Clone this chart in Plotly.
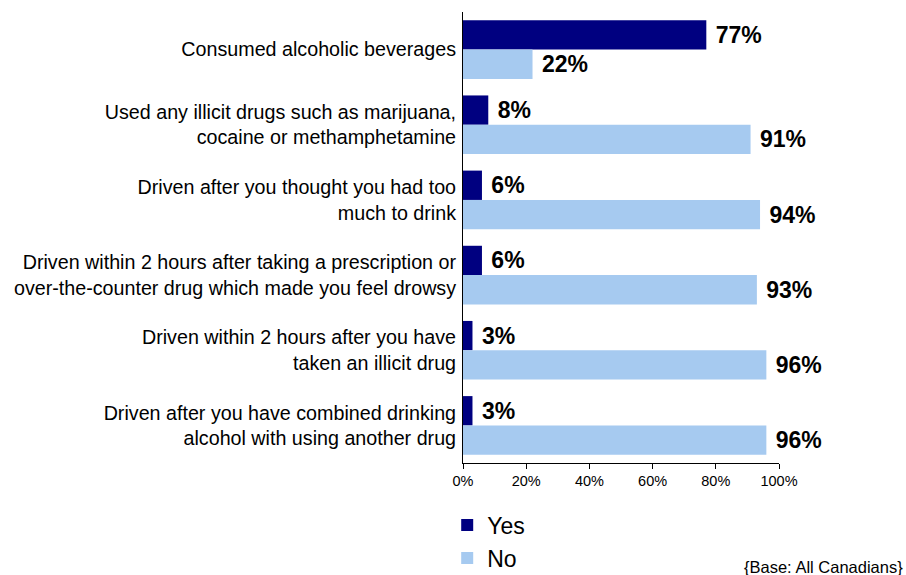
import plotly.graph_objects as go

categories = [
    "Consumed alcoholic beverages",
    "Used any illicit drugs such as marijuana,<br>cocaine or methamphetamine",
    "Driven after you thought you had too<br>much to drink",
    "Driven within 2 hours after taking a prescription or<br>over-the-counter drug which made you feel drowsy",
    "Driven within 2 hours after you have<br>taken an illicit drug",
    "Driven after you have combined drinking<br>alcohol with using another drug",
]
yes_values = [77, 8, 6, 6, 3, 3]
no_values = [22, 91, 94, 93, 96, 96]
x_ticks = [0, 20, 40, 60, 80, 100]

SANS = "Liberation Sans, Arial, sans-serif"

fig = go.Figure()
for name, vals, color in [("Yes", yes_values, "#000080"), ("No", no_values, "#A6CAF0")]:
    fig.add_trace(go.Bar(
        name=name,
        y=categories,
        x=vals,
        orientation="h",
        marker=dict(color=color, line=dict(width=0)),
        text=[f" <b>{v}%</b>" for v in vals],
        textposition="outside",
        textfont=dict(family=SANS, size=23, color="black"),
        cliponaxis=False,
    ))

fig.update_layout(
    width=906,
    height=575,
    margin=dict(l=463, r=127, t=12, b=112, autoexpand=False),
    barmode="group",
    bargap=0.22,
    bargroupgap=0,
    plot_bgcolor="white",
    paper_bgcolor="white",
    showlegend=True,
    legend=dict(
        x=-0.05, xanchor="left",
        y=-0.09, yanchor="top",
        orientation="v",
        font=dict(family=SANS, size=23, color="black"),
        tracegroupgap=2,
        bgcolor="rgba(0,0,0,0)",
    ),
    xaxis=dict(
        range=[0, 100],
        tickvals=x_ticks,
        ticktext=[f"{t}%" for t in x_ticks],
        showgrid=False,
        zeroline=False,
        showline=True,
        linecolor="black",
        linewidth=1,
        ticks="outside",
        ticklen=5,
        tickcolor="black",
        tickfont=dict(family=SANS, size=14.5, color="black"),
    ),
    yaxis=dict(
        autorange="reversed",
        showgrid=False,
        zeroline=False,
        showline=True,
        linecolor="black",
        linewidth=1,
        ticks="",
        ticklabelstandoff=2,
        tickfont=dict(family=SANS, size=19.7, color="black"),
    ),
    annotations=[
        dict(
            text="{Base: All Canadians}",
            xref="paper", yref="paper",
            x=1.399, xanchor="right",
            y=-0.2306, yanchor="middle",
            showarrow=False,
            font=dict(family=SANS, size=16.5, color="black"),
        )
    ],
)

fig.write_html("out.html")
